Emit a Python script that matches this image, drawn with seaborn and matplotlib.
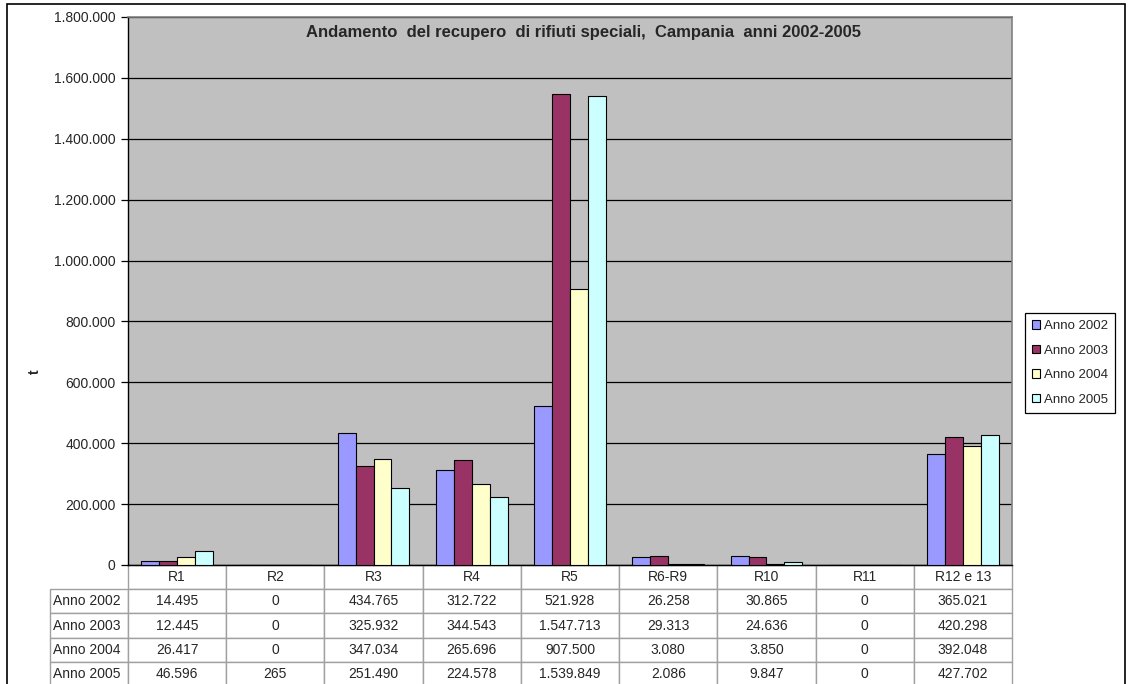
import matplotlib
matplotlib.use("Agg")
import matplotlib.pyplot as plt
from matplotlib.patches import Rectangle
import seaborn as sns
import pandas as pd

# Recovery operations and yearly tonnages (t)
categorie = ["R1", "R2", "R3", "R4", "R5", "R6-R9", "R10", "R11", "R12 e 13"]
anni = ["Anno 2002", "Anno 2003", "Anno 2004", "Anno 2005"]
anno_2002 = [14495, 0, 434765, 312722, 521928, 26258, 30865, 0, 365021]
anno_2003 = [12445, 0, 325932, 344543, 1547713, 29313, 24636, 0, 420298]
anno_2004 = [26417, 0, 347034, 265696, 907500, 3080, 3850, 0, 392048]
anno_2005 = [46596, 265, 251490, 224578, 1539849, 2086, 9847, 0, 427702]
y_ticks = [0, 200000, 400000, 600000, 800000, 1000000, 1200000, 1400000, 1600000, 1800000]

serie = [anno_2002, anno_2003, anno_2004, anno_2005]
colori = ["#9999FF", "#993366", "#FFFFCC", "#CCFFFF"]

df = pd.DataFrame(
    [(c, a, v) for a, vals in zip(anni, serie) for c, v in zip(categorie, vals)],
    columns=["categoria", "anno", "t"],
)


def fmt(v):
    return f"{v:,.0f}".replace(",", ".")


sns.set_style("white")
plt.rcParams["font.family"] = ["Liberation Sans", "DejaVu Sans"]

W, H = 1130, 684
fig = plt.figure(figsize=(W / 100, H / 100), dpi=100)
ax = fig.add_axes([128 / W, 1 - 565 / H, 884 / W, 548 / H])
ax.set_facecolor("#C0C0C0")

sns.barplot(
    data=df, x="categoria", y="t", hue="anno", hue_order=anni, order=categorie,
    palette=colori, width=0.73, edgecolor="black", linewidth=0.8,
    saturation=1, ax=ax, zorder=3,
)

ax.set_ylim(0, 1800000)
ax.set_xlim(-0.5, len(categorie) - 0.5)
ax.set_yticks(y_ticks)
ax.set_yticklabels([fmt(v) for v in y_ticks], fontsize=10)
ax.yaxis.grid(True, color="black", linewidth=0.9, zorder=0)
ax.set_axisbelow(True)
ax.tick_params(axis="y", length=5, width=0.9, color="black", direction="out", left=True, pad=4)
ax.set_xticks([])
ax.set_xlabel("")
ax.set_ylabel("")
for side in ["top", "right"]:
    ax.spines[side].set_color("#808080")
    ax.spines[side].set_linewidth(1.2)
for side in ["left", "bottom"]:
    ax.spines[side].set_color("black")
    ax.spines[side].set_linewidth(1.0)

# Data table under the plot area; the grid spans the axes width and the
# row-label column hangs off to the left of it
cell_text = [[fmt(v) for v in vals] for vals in serie]
row_w = 78 / 884
tab = ax.table(
    cellText=cell_text, colLabels=categorie,
    cellLoc="center", colWidths=[1 / 9] * 9,
    bbox=[0, -121 / 548, 1, 121 / 548],
)
cell_h = tab[1, 0].get_height()
for i, anno in enumerate(anni):
    lab = tab.add_cell(i + 1, -1, width=row_w, height=cell_h, text=anno, loc="left")
    lab.PAD = 0.04
tab.auto_set_font_size(False)
tab.set_fontsize(10)
for (r, c), cell in tab.get_celld().items():
    cell.set_edgecolor("#A0A0A0")
    cell.set_linewidth(1.0)

# Legend
handles, labels = ax.get_legend_handles_labels()
ax.legend(
    handles, labels, loc="upper left",
    bbox_to_anchor=(1025 / W, 1 - 313 / H), bbox_transform=fig.transFigure,
    fontsize=9.5, frameon=True, fancybox=False, edgecolor="black", framealpha=1,
    handlelength=0.6, handleheight=0.6, handletextpad=0.3, labelspacing=0.95,
    borderpad=0.55, borderaxespad=0,
)
ax.get_legend().get_frame().set_linewidth(0.9)

fig.text(583 / W, 1 - 32 / H,
         "Andamento  del recupero  di rifiuti speciali,  Campania  anni 2002-2005",
         ha="center", va="center", fontsize=12, fontweight="bold")
fig.text(35 / W, 1 - 372 / H, "t", rotation=90, ha="center", va="center",
         fontsize=10, fontweight="bold")

# Chart frame
fig.patches.append(Rectangle((7 / W, -0.02), 1118 / W, 1 - 4 / H + 0.02,
                             transform=fig.transFigure, fill=False,
                             edgecolor="black", linewidth=1.2))

fig.savefig("out.png", dpi=100)
